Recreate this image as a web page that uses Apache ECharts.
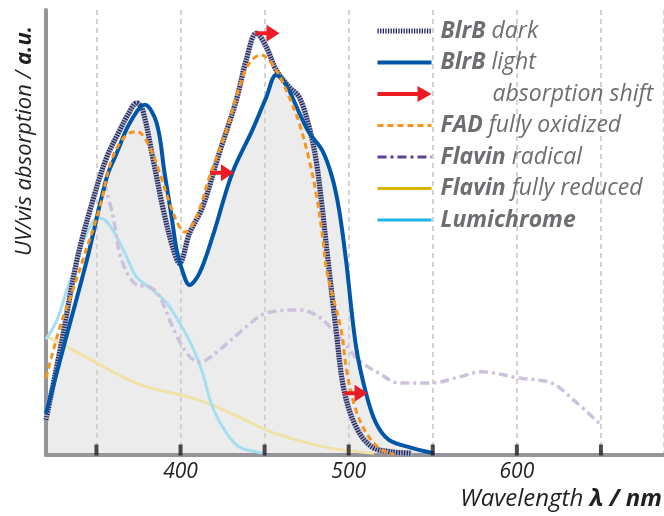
<!DOCTYPE html>
<html><head><meta charset="utf-8">
<script src="https://cdn.jsdelivr.net/npm/echarts@6/dist/echarts.min.js"></script>
<style>html,body{margin:0;padding:0;background:#fff}#c{width:664px;height:516px}</style>
</head><body><div id="c"></div>
<script>
// Wavelength (nm) / absorbance (a.u., normalised)
const darkNm = [320,329.5,338.4,347.9,356.2,363.9,368.6,373.9,377.5,383.4,389.4,395.3,399.4,405.4,413.1,423.1,433.2,439.1,445.1,451.0,456.9,464.6,470.6,476.5,480.6,484.2,487.2,492.5,497.2,504.4,513.8,525.7,537.5];
const darkAbs = [0.079,0.258,0.438,0.573,0.670,0.730,0.764,0.791,0.775,0.670,0.557,0.467,0.431,0.499,0.557,0.679,0.798,0.888,0.948,0.917,0.865,0.827,0.804,0.737,0.663,0.557,0.454,0.281,0.146,0.063,0.018,0.007,0.004];
const lightNm = [320,332.4,344.3,356.2,362.1,369.8,378.7,385.8,390.5,394.7,397.7,400.6,405.4,411.3,419.0,430.8,442.7,451.0,456.9,462.9,470.6,476.5,484.2,490.1,494.3,498.4,504.4,510.3,516.2,523.9,537.5,550.6];
const lightAbs = [0.094,0.27,0.438,0.625,0.679,0.746,0.787,0.746,0.634,0.535,0.461,0.420,0.382,0.409,0.490,0.634,0.730,0.804,0.854,0.831,0.769,0.724,0.685,0.625,0.551,0.438,0.243,0.139,0.072,0.034,0.016,0.004];
const fadNm = [320,328.3,336.0,341.9,352.0,359.7,369.8,374.5,381.6,387.6,393.5,399.4,402.4,409.5,417.2,427.3,435.0,440.9,448.0,456.9,464.6,470.6,476.5,480.6,484.2,487.2,495.5,499.0,504.9,512.1,519.8,526.9];
const fadAbs = [0.173,0.288,0.371,0.438,0.557,0.670,0.724,0.726,0.692,0.634,0.566,0.512,0.501,0.535,0.625,0.730,0.827,0.881,0.899,0.865,0.804,0.746,0.663,0.589,0.499,0.409,0.281,0.184,0.094,0.040,0.011,0.002];
const radNm = [354.5,359.7,365.0,373.9,381.6,387.6,395.3,403.6,411.3,423.1,439.1,451.0,470.6,482.4,494.3,506.1,518.0,529.8,549.4,565.4,579.0,601.0,620.5,633.6,650.2];
const radAbs = [0.612,0.539,0.438,0.382,0.378,0.355,0.288,0.229,0.209,0.236,0.288,0.319,0.326,0.310,0.265,0.213,0.184,0.162,0.162,0.175,0.187,0.173,0.162,0.124,0.067];
const redNm = [320,332.4,350.2,365.6,379.9,395.3,405.4,419.0,435.0,451.0,468.8,488.3,506.1,515.0];
const redAbs = [0.267,0.243,0.207,0.175,0.153,0.139,0.130,0.112,0.085,0.056,0.034,0.016,0.007,0.004];
const lumNm = [320,326.5,332.4,336.0,340.2,346.1,350.8,356.2,362.1,368.0,373.9,383.4,391.7,399.4,407.1,413.1,419.0,427.3,435.0,445.1,449.8];
const lumAbs = [0.26,0.303,0.371,0.409,0.461,0.512,0.533,0.524,0.490,0.445,0.400,0.371,0.342,0.297,0.243,0.184,0.108,0.049,0.018,0.007,0.004];
const shiftNm = [451.7,424.6,504.1];
const shiftAbs = [0.948,0.634,0.139];
const tickStep = 50;
const tickValues = [350,400,450,500,550,600,650];
const labelValues = [400,500,600];

const zip = (a, b) => a.map((v, i) => [v, b[i]]);
const FONT = 'Open Sans';
const TXT = '#6d6e71';
const arrowPath = 'path://M0,6.5 L11,6.5 L11,0 L24,8.5 L11,17 L11,10.5 L0,10.5 Z';
const arrowLegend = 'path://M0,6 L40,6 L40,0 L54,8 L40,16 L40,10 L0,10 Z';

const chart = echarts.init(document.getElementById('c'), null, {renderer: 'canvas'});
const line = (name, nm, ab, color, width, type, z, extra) => Object.assign({
  name, type: 'line', data: zip(nm, ab), smooth: 0.35, symbol: 'none', z,
  lineStyle: {color, width, type}, itemStyle: {color}, emphasis: {disabled: true}, silent: true
}, extra || {});
const hid = {opacity: 0, color: 'transparent', borderWidth: 0};

chart.setOption({
  animation: false,
  grid: {left: 46, right: -2, top: 10, bottom: 61},
  xAxis: {
    type: 'value', min: 320, max: 687.5, minInterval: tickStep, maxInterval: tickStep, z: 1,
    axisLine: {show: true, lineStyle: {color: '#939598', width: 4}},
    axisTick: {show: false},
    axisLabel: {customValues: labelValues, margin: 7, color: '#231f20', fontFamily: FONT, fontStyle: 'italic', fontSize: 21},
    splitLine: {show: true, lineStyle: {color: '#d2d2d2', width: 2, type: [5, 4]}}
  },
  yAxis: {
    type: 'value', min: 0, max: 1, z: 2,
    axisLine: {show: true, lineStyle: {color: '#939598', width: 4}},
    axisTick: {show: false}, axisLabel: {show: false}, splitLine: {show: false}
  },
  legend: {
    orient: 'vertical', left: 370, top: 14, itemWidth: 54, itemHeight: 16, itemGap: 7.5,
    selectedMode: false,
    itemStyle: hid,
    lineStyle: {width: 'inherit'},
    data: [
      {name: 'BlrB dark'},
      {name: 'BlrB light'},
      {name: 'absorption shift', icon: arrowLegend, itemStyle: {color: '#ed1c24', opacity: 1}},
      {name: 'FAD fully oxidized'},
      {name: 'Flavin radical', lineStyle: {color: '#5e3f96', width: 3}},
      {name: 'Flavin fully reduced', lineStyle: {color: '#d9b400', width: 3}},
      {name: 'Lumichrome', lineStyle: {color: '#1cb5e8', width: 3}}
    ],
    formatter: function (name) {
      if (name === 'absorption shift') return '{s|absorption shift}';
      const i = name.indexOf(' ');
      if (i < 0) return '{b|' + name + '}';
      return '{b|' + name.slice(0, i) + '}{i| ' + name.slice(i + 1) + '}';
    },
    textStyle: {
      color: TXT, fontFamily: FONT, fontSize: 23, lineHeight: 24,
      rich: {
        b: {color: TXT, fontFamily: FONT, fontSize: 23, fontWeight: 'bold', fontStyle: 'italic', padding: [0, 0, 0, 4]},
        i: {color: TXT, fontFamily: FONT, fontSize: 23, fontStyle: 'italic'},
        s: {color: TXT, fontFamily: FONT, fontSize: 23, fontStyle: 'italic', padding: [0, 0, 0, 56]}
      }
    }
  },
  graphic: [
    {type: 'text', x: 25, y: 256, rotation: Math.PI / 2, silent: true,
      style: {text: '{i|UV/vis absorption / }{b|a.u.}', align: 'left', verticalAlign: 'middle',
        rich: {i: {fontFamily: FONT, fontSize: 22, fontStyle: 'italic', fill: '#231f20'},
               b: {fontFamily: FONT, fontSize: 22, fontStyle: 'italic', fontWeight: 'bold', fill: '#231f20'}}}},
    {type: 'text', x: 662, y: 499, silent: true,
      style: {text: '{i|Wavelength }{b|λ / nm}', align: 'right', verticalAlign: 'middle',
        rich: {i: {fontFamily: FONT, fontSize: 24, fontStyle: 'italic', fill: '#231f20'},
               b: {fontFamily: FONT, fontSize: 24, fontStyle: 'italic', fontWeight: 'bold', fill: '#231f20'}}}}
  ],
  series: [
    line('light area', lightNm, lightAbs, 'transparent', 0, 'solid', 0, {areaStyle: {color: '#e2e2e2', opacity: 0.65}}),
    line('Flavin fully reduced', redNm, redAbs, '#efe2a6', 3, 'solid', 2),
    line('Lumichrome', lumNm, lumAbs, '#a6def1', 3, 'solid', 2),
    line('Flavin radical', radNm, radAbs, '#cdc1de', 3.5, [9, 4, 3, 4], 2),
    line('dark base', darkNm, darkAbs, '#aeb2c6', 5.5, 'solid', 3),
    line('BlrB dark', darkNm, darkAbs, '#1f2560', 5, [1.3, 1.3], 3),
    line('BlrB light', lightNm, lightAbs, '#0057a8', 4, 'solid', 4),
    line('FAD fully oxidized', fadNm, fadAbs, '#f7941d', 3, [6, 4], 5),
    {name: 'absorption shift', type: 'scatter', data: zip(shiftNm, shiftAbs), symbol: arrowPath,
      symbolSize: [24, 17], itemStyle: {color: '#ed1c24', opacity: 1}, z: 6, silent: true},
    {name: 'ticks', type: 'scatter', data: tickValues.map(v => [v, 0]), symbol: 'rect',
      symbolSize: [4, 11], symbolOffset: [0, -5], clip: false,
      itemStyle: {color: '#231f20'}, z: 7, silent: true}
  ]
});
</script></body></html>
